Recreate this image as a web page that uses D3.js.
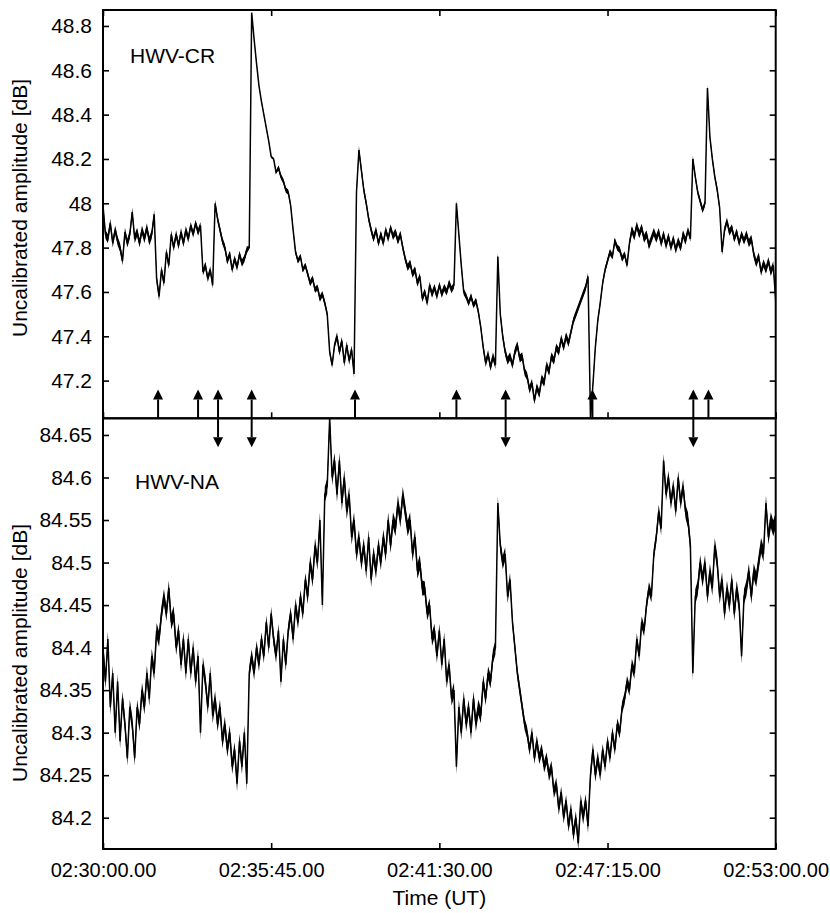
<!DOCTYPE html>
<html>
<head>
<meta charset="utf-8">
<script src="https://cdn.jsdelivr.net/npm/d3@7"></script>
<style>
  body { margin: 0; background: #fff; }
  svg { display: block; }
</style>
</head>
<body>
<svg id="chart" width="830" height="913"></svg>
<script>
// samples every 5 s starting at 02:30:00 UT, one row per minute
var sampleStep = 5;

var crValues = [
  47.99, 47.86, 47.84, 47.91, 47.82, 47.88, 47.83, 47.80, 47.74, 47.87, 47.82, 47.86,
  47.96, 47.84, 47.87, 47.82, 47.88, 47.84, 47.89, 47.83, 47.86, 47.95, 47.66, 47.58,
  47.70, 47.64, 47.78, 47.72, 47.86, 47.80, 47.86, 47.81, 47.87, 47.82, 47.88, 47.84,
  47.90, 47.86, 47.91, 47.87, 47.90, 47.69, 47.72, 47.66, 47.70, 47.63, 48.00, 47.93,
  47.88, 47.83, 47.80, 47.74, 47.77, 47.70, 47.75, 47.71, 47.77, 47.73, 47.75, 47.79,
  47.80, 48.86, 48.74, 48.63, 48.53, 48.46, 48.40, 48.34, 48.28, 48.21, 48.20, 48.14,
  48.16, 48.12, 48.10, 48.06, 48.05, 47.99, 47.88, 47.78, 47.74, 47.76, 47.70, 47.72,
  47.68, 47.64, 47.66, 47.61, 47.62, 47.57, 47.59, 47.55, 47.50, 47.33, 47.27, 47.36,
  47.40, 47.33, 47.38, 47.28, 47.36, 47.29, 47.34, 47.23, 48.05, 48.24, 48.15, 48.06,
  48.00, 47.93, 47.88, 47.84, 47.88, 47.82, 47.86, 47.82, 47.88, 47.84, 47.89, 47.85,
  47.87, 47.83, 47.86, 47.80, 47.75, 47.71, 47.73, 47.68, 47.70, 47.64, 47.67, 47.57,
  47.60, 47.55, 47.63, 47.59, 47.62, 47.58, 47.63, 47.59, 47.62, 47.60, 47.64, 47.61,
  47.63, 48.00, 47.86, 47.72, 47.60, 47.58, 47.55, 47.58, 47.54, 47.56, 47.51, 47.44,
  47.35, 47.28, 47.32, 47.26, 47.31, 47.27, 47.76, 47.50, 47.40, 47.33, 47.29, 47.31,
  47.27, 47.33, 47.36, 47.30, 47.31, 47.24, 47.22, 47.16, 47.19, 47.11, 47.17, 47.14,
  47.21, 47.19, 47.27, 47.24, 47.31, 47.29, 47.35, 47.33, 47.39, 47.35, 47.40, 47.37,
  47.42, 47.47, 47.50, 47.53, 47.56, 47.59, 47.62, 47.67, 47.03, 47.18, 47.35, 47.47,
  47.55, 47.64, 47.70, 47.74, 47.78, 47.76, 47.83, 47.80, 47.79, 47.75, 47.77, 47.72,
  47.82, 47.88, 47.85, 47.90, 47.86, 47.89, 47.84, 47.86, 47.81, 47.84, 47.87, 47.84,
  47.87, 47.82, 47.86, 47.81, 47.85, 47.80, 47.84, 47.79, 47.83, 47.80, 47.86, 47.83,
  47.88, 47.84, 48.20, 48.12, 48.05, 48.01, 47.97, 48.00, 48.52, 48.30, 48.20, 48.12,
  48.06, 47.98, 47.78, 47.88, 47.92, 47.87, 47.89, 47.84, 47.87, 47.82, 47.86, 47.83,
  47.86, 47.82, 47.84, 47.77, 47.73, 47.76, 47.69, 47.73, 47.70, 47.74, 47.69, 47.72,
  47.56
];

// half-width of the fine noise band, dB, per minute
var crSpread = [
  0.020, 0.020, 0.018, 0.016, 0.016, 0.006, 0.012, 0.014, 0.018, 0.016, 0.016, 0.016,
  0.014, 0.018, 0.018, 0.018, 0.016, 0.014, 0.018, 0.018, 0.014, 0.016, 0.018, 0.016
];

var naValues = [
  84.40, 84.36, 84.41, 84.33, 84.37, 84.30, 84.36, 84.29, 84.34, 84.31, 84.27, 84.33,
  84.31, 84.27, 84.33, 84.31, 84.35, 84.33, 84.37, 84.34, 84.39, 84.37, 84.42, 84.41,
  84.44, 84.46, 84.44, 84.47, 84.43, 84.44, 84.40, 84.42, 84.38, 84.41, 84.37, 84.41,
  84.37, 84.40, 84.36, 84.39, 84.30, 84.38, 84.36, 84.33, 84.37, 84.32, 84.34, 84.31,
  84.33, 84.29, 84.31, 84.28, 84.30, 84.26, 84.28, 84.24, 84.29, 84.26, 84.30, 84.24,
  84.37, 84.39, 84.37, 84.40, 84.38, 84.41, 84.39, 84.43, 84.40, 84.44, 84.41, 84.39,
  84.42, 84.36, 84.41, 84.38, 84.42, 84.44, 84.41, 84.45, 84.43, 84.46, 84.44, 84.48,
  84.46, 84.50, 84.48, 84.52, 84.50, 84.55, 84.45, 84.58, 84.59, 84.67, 84.60, 84.62,
  84.58, 84.62, 84.57, 84.60, 84.56, 84.58, 84.53, 84.55, 84.51, 84.53, 84.50, 84.52,
  84.49, 84.53, 84.48, 84.51, 84.49, 84.52, 84.50, 84.53, 84.51, 84.55, 84.52, 84.55,
  84.54, 84.57, 84.55, 84.58, 84.56, 84.54, 84.55, 84.51, 84.53, 84.49, 84.50, 84.47,
  84.47, 84.44, 84.45, 84.41, 84.42, 84.39, 84.42, 84.38, 84.41, 84.36, 84.38, 84.34,
  84.35, 84.26, 84.33, 84.30, 84.34, 84.31, 84.33, 84.30, 84.34, 84.31, 84.33, 84.32,
  84.36, 84.34, 84.37, 84.36, 84.39, 84.40, 84.57, 84.52, 84.50, 84.51, 84.46, 84.48,
  84.43, 84.40, 84.37, 84.35, 84.33, 84.31, 84.30, 84.28, 84.30, 84.27, 84.29, 84.27,
  84.28, 84.26, 84.27, 84.25, 84.26, 84.23, 84.24, 84.21, 84.23, 84.20, 84.22, 84.19,
  84.21, 84.18, 84.20, 84.17, 84.22, 84.20, 84.22, 84.19, 84.25, 84.28, 84.25, 84.27,
  84.25, 84.28, 84.26, 84.29, 84.27, 84.30, 84.28, 84.31, 84.30, 84.33, 84.34, 84.36,
  84.35, 84.38, 84.37, 84.41, 84.39, 84.43, 84.42, 84.45, 84.47, 84.46, 84.51, 84.53,
  84.56, 84.54, 84.62, 84.58, 84.60, 84.57, 84.59, 84.56, 84.60, 84.57, 84.59, 84.56,
  84.55, 84.52, 84.37, 84.46, 84.47, 84.50, 84.48, 84.50, 84.46, 84.49, 84.47, 84.52,
  84.50, 84.46, 84.48, 84.44, 84.47, 84.45, 84.48, 84.44, 84.47, 84.45, 84.39, 84.46,
  84.47, 84.49, 84.46, 84.49, 84.48, 84.50, 84.52, 84.51, 84.57, 84.53, 84.55, 84.54,
  84.55
];

var naSpread = [
  0.009, 0.009, 0.009, 0.009, 0.009, 0.008, 0.008, 0.009, 0.009, 0.009, 0.009, 0.008,
  0.009, 0.008, 0.007, 0.007, 0.008, 0.007, 0.007, 0.008, 0.009, 0.009, 0.009, 0.009
];

var crTicks = [47.2, 47.4, 47.6, 47.8, 48, 48.2, 48.4, 48.6, 48.8];
var naTicks = [84.2, 84.25, 84.3, 84.35, 84.4, 84.45, 84.5, 84.55, 84.6, 84.65];

var timeTicks = [0, 345, 690, 1035, 1380];   // seconds after 02:30:00
var timeLabels = ["02:30:00.00", "02:35:45.00", "02:41:30.00", "02:47:15.00", "02:53:00.00"];

// marked events (seconds after 02:30:00): "up" = CR only, "both" = CR and NA
var eventTimes = [113, 195, 236, 305, 517, 725, 826, 1004, 1211, 1242];
var eventKinds = ["up", "up", "both", "both", "up", "up", "both", "up", "both", "up"];

var fontFamily = '"Liberation Sans", Arial, Helvetica, sans-serif';

var left = 103, right = 775.7,
    topY = 10, midY = 418.3, botY = 849;

var svg = d3.select("#chart");

var x = d3.scaleLinear().domain([0, 1380]).range([left, right]);
var yCR = d3.scaleLinear().domain([47.030, 48.872]).range([midY, topY]);
var yNA = d3.scaleLinear().domain([84.1632, 84.6696]).range([botY, midY]);

function styleAxis(g) {
  g.attr("font-family", fontFamily).attr("font-size", 21);
  g.selectAll(".tick line").attr("stroke", "#000").attr("stroke-width", 1.6);
  g.selectAll("text").attr("fill", "#000");
  g.select(".domain").remove();
}

function drawPanel(values, spread, y, y0, y1, ticks, name, label, labelX, labelY, labelCY, id) {
  svg.append("clipPath").attr("id", id)
    .append("rect")
      .attr("x", left).attr("y", y0)
      .attr("width", right - left).attr("height", y1 - y0);

  var band = d3.area()
    .x(function(d, i) { return x(i * sampleStep); })
    .y0(function(d, i) { return y(d - spread[Math.floor(i / 12)]); })
    .y1(function(d, i) { return y(d + spread[Math.floor(i / 12)]); });

  var line = d3.line()
    .x(function(d, i) { return x(i * sampleStep); })
    .y(function(d) { return y(d); });

  var plot = svg.append("g").attr("clip-path", "url(#" + id + ")");

  plot.append("path")
    .datum(values)
    .attr("fill", "#000")
    .attr("d", band);

  plot.append("path")
    .datum(values)
    .attr("fill", "none")
    .attr("stroke", "#000")
    .attr("stroke-width", 1.5)
    .attr("d", line);

  svg.append("g")
    .attr("transform", "translate(" + left + ",0)")
    .call(d3.axisLeft(y).tickValues(ticks).tickSizeInner(-6).tickSizeOuter(0)
      .tickPadding(11).tickFormat(function(d) { return String(d); }))
    .call(styleAxis);

  svg.append("g")
    .attr("transform", "translate(" + right + ",0)")
    .call(d3.axisRight(y).tickValues(ticks).tickSizeInner(-6).tickSizeOuter(0)
      .tickFormat(""))
    .call(styleAxis);

  svg.append("rect")
    .attr("x", left).attr("y", y0)
    .attr("width", right - left).attr("height", y1 - y0)
    .attr("fill", "none").attr("stroke", "#000").attr("stroke-width", 2);

  svg.append("text")
    .attr("x", labelX).attr("y", labelY)
    .attr("font-family", fontFamily).attr("font-size", 21)
    .text(name);

  svg.append("text")
    .attr("transform", "translate(27," + labelCY + ") rotate(-90)")
    .attr("text-anchor", "middle")
    .attr("font-family", fontFamily).attr("font-size", 21)
    .text(label);
}

drawPanel(crValues, crSpread, yCR, topY, midY, crTicks, "HWV-CR",
  "Uncalibrated amplitude [dB]", 130, 63, 208, "clipCR");
drawPanel(naValues, naSpread, yNA, midY, botY, naTicks, "HWV-NA",
  "Uncalibrated amplitude [dB]", 135, 489, 653, "clipNA");

// time ticks: top of upper panel, separator (upward), bottom of lower panel with labels
svg.append("g")
  .attr("transform", "translate(0," + topY + ")")
  .call(d3.axisTop(x).tickValues(timeTicks).tickSizeInner(-6).tickSizeOuter(0).tickFormat(""))
  .call(styleAxis);

svg.append("g")
  .attr("transform", "translate(0," + midY + ")")
  .call(d3.axisBottom(x).tickValues(timeTicks).tickSizeInner(-6).tickSizeOuter(0).tickFormat(""))
  .call(styleAxis);

svg.append("g")
  .attr("transform", "translate(0," + botY + ")")
  .call(d3.axisBottom(x).tickValues(timeTicks).tickSizeInner(-6).tickSizeOuter(0)
    .tickPadding(14).tickFormat(function(d, i) { return timeLabels[i]; }))
  .call(styleAxis)
  .attr("font-size", 20);

svg.append("text")
  .attr("x", (left + right) / 2).attr("y", 905)
  .attr("text-anchor", "middle")
  .attr("font-family", fontFamily).attr("font-size", 21)
  .text("Time (UT)");

// event arrows across the panel boundary
var arrows = svg.append("g").attr("class", "arrows");
eventTimes.forEach(function(t, i) {
  var ax = x(t);
  var upTip = 389.5, downTip = 447.3, head = 10, hw = 5;
  var yEnd = eventKinds[i] === "both" ? downTip - head : midY;
  arrows.append("line")
    .attr("x1", ax).attr("x2", ax)
    .attr("y1", upTip + head).attr("y2", yEnd)
    .attr("stroke", "#000").attr("stroke-width", 2);
  arrows.append("path")
    .attr("d", "M" + ax + "," + upTip + "L" + (ax - hw) + "," + (upTip + head) +
               "L" + (ax + hw) + "," + (upTip + head) + "Z")
    .attr("fill", "#000");
  if (eventKinds[i] === "both") {
    arrows.append("path")
      .attr("d", "M" + ax + "," + downTip + "L" + (ax - hw) + "," + (downTip - head) +
                 "L" + (ax + hw) + "," + (downTip - head) + "Z")
      .attr("fill", "#000");
  }
});
</script>
</body>
</html>
